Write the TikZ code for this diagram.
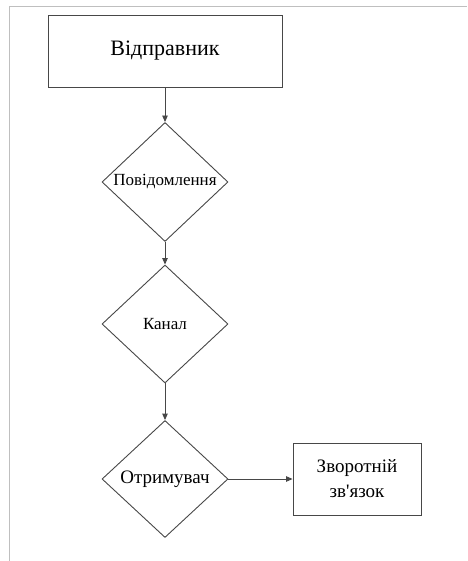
\documentclass[tikz,border=0pt]{standalone}
\usepackage{fontspec}
\setmainfont{Liberation Serif}
% same face without TeX ligatures, so ' stays a straight apostrophe
\newfontfamily\plainserif{Liberation Serif}
\usetikzlibrary{shapes.geometric,arrows.meta}
\newcommand{\fsz}[1]{\fontsize{#1}{#1}\selectfont}
\begin{document}
\begin{tikzpicture}[x=1pt,y=-1pt,
  line/.style={draw=black!72,line width=0.9pt},
  block/.style={line,rectangle,inner sep=0pt},
  decision/.style={line,diamond,inner sep=0pt},
  flow/.style={line,-{Triangle[length=6.5pt,width=5.5pt]}}]
\useasboundingbox (0,0) rectangle (467,561);
% outer frame
\draw[black!25,line width=0.7pt] (9,561) -- (9,6) -- (467,6);
% nodes
\node[block,minimum width=234pt,minimum height=72pt,font=\fsz{22}] (snd) at (165,51) {Відправник};
\node[decision,minimum width=126pt,minimum height=119pt] (msg) at (165,182) {};
\node[font=\fsz{17}] (msgt) at (msg) {Повідомлення};
\node[decision,minimum width=126pt,minimum height=118pt] (chn) at (165,324) {};
\node[font=\fsz{17}] (chnt) at (chn) {Канал};
\node[decision,minimum width=126pt,minimum height=117pt] (rcv) at (165,479) {};
\node[font=\fsz{19}] (rcvt) at (rcv) {Отримувач};
\node[block,minimum width=128pt,minimum height=72pt,align=center,font=\plainserif\fontsize{19}{25}\selectfont] (fb) at (357,479) {Зворотній\\зв'язок};
% connectors
\draw[flow] (snd.south) -- (msg.north);
\draw[flow] (msg.south) -- (chn.north);
\draw[flow] (chn.south) -- (rcv.north);
\draw[flow] (rcv.east) -- (fb.west);
\end{tikzpicture}
\end{document}
